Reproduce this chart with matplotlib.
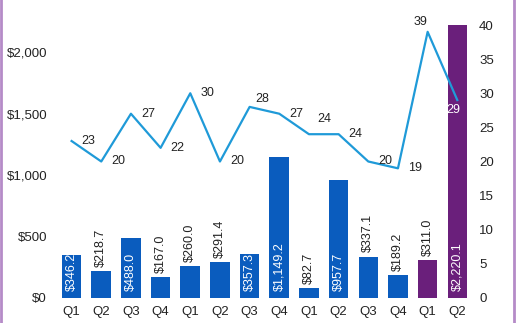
import matplotlib
matplotlib.use("Agg")
import matplotlib.pyplot as plt
import numpy as np

plt.rcParams['font.family'] = ['Liberation Sans', 'DejaVu Sans']

quarters = ["Q1", "Q2", "Q3", "Q4", "Q1", "Q2", "Q3", "Q4",
            "Q1", "Q2", "Q3", "Q4", "Q1", "Q2"]
amounts = [346.2, 218.7, 488.0, 167.0, 260.0, 291.4, 357.3, 1149.2,
           82.7, 957.7, 337.1, 189.2, 311.0, 2220.1]
deal_counts = [23, 20, 27, 22, 30, 20, 28, 27, 24, 24, 20, 19, 39, 29]
highlight = [False] * 12 + [True, True]   # last two quarters in purple
inside_label = [True, False, True, False, False, False, True, True,
                False, True, False, False, False, True]

blue = "#0A5CBE"
purple = "#6A1F7B"
line_col = "#1F9AD8"

fig = plt.figure(figsize=(5.16, 3.23), dpi=100)
ax = fig.add_axes([0.110, 0.0774, 0.805, 0.8452])
ax2 = ax.twinx()

x = np.arange(len(quarters))
colors = [purple if h else blue for h in highlight]
bars = ax.bar(x, amounts, width=0.66, color=colors, zorder=2)

for i, v in enumerate(amounts):
    txt = "${:,.1f}".format(v)
    if inside_label[i]:
        t = ax.annotate(txt, (x[i], 0), xytext=(0, 5), textcoords="offset points",
                        rotation=90, ha="center", va="bottom", color="white",
                        fontsize=9, annotation_clip=False, zorder=3)
        t.set_clip_path(bars[i])   # white text cut at the bar top
    else:
        ax.annotate(txt, (x[i], v), xytext=(0, 3), textcoords="offset points",
                    rotation=90, ha="center", va="bottom", color="#222222",
                    fontsize=9, zorder=3)

ax.set_xlim(-0.5, len(quarters) - 0.5)
ax.set_ylim(0, 2220)
ax.set_yticks([0, 500, 1000, 1500, 2000])
ax.set_yticklabels(["$0", "$500", "$1,000", "$1,500", "$2,000"])
ax.set_xticks(x)
ax.set_xticklabels(quarters)

ax2.plot(x, deal_counts, color=line_col, lw=1.6, zorder=4)
ax2.set_ylim(0, 40)
ax2.set_yticks(range(0, 41, 5))

# label offsets in pixels (mostly to the right of the point)
offs = {6: (13, 8), 8: (15, 15), 12: (-7, 10), 13: (-4, -10)}
for i, c in enumerate(deal_counts):
    dx, dy = offs.get(i, (17, 0))
    col = "white" if i == 13 else "#222222"
    ax2.annotate(str(c), (x[i], c), xytext=(dx * 0.72, dy * 0.72),
                 textcoords="offset points", ha="center", va="center",
                 fontsize=9, color=col, zorder=5)

for a in (ax, ax2):
    for s in a.spines.values():
        s.set_visible(False)
    a.tick_params(length=0, labelsize=9.5, colors="#222222")
ax.tick_params(axis="y", pad=7)
ax.tick_params(axis="x", pad=6)
ax2.tick_params(axis="y", pad=5)
ax2.set_zorder(ax.get_zorder() + 1)
ax2.patch.set_visible(False)

# purple frame lines on the sides
fig.add_artist(plt.Line2D([0.002, 0.002], [0, 1], color="#B58BC8", lw=2))
fig.add_artist(plt.Line2D([0.997, 0.997], [0, 1], color="#B58BC8", lw=2))

fig.savefig("out.png", dpi=100)
